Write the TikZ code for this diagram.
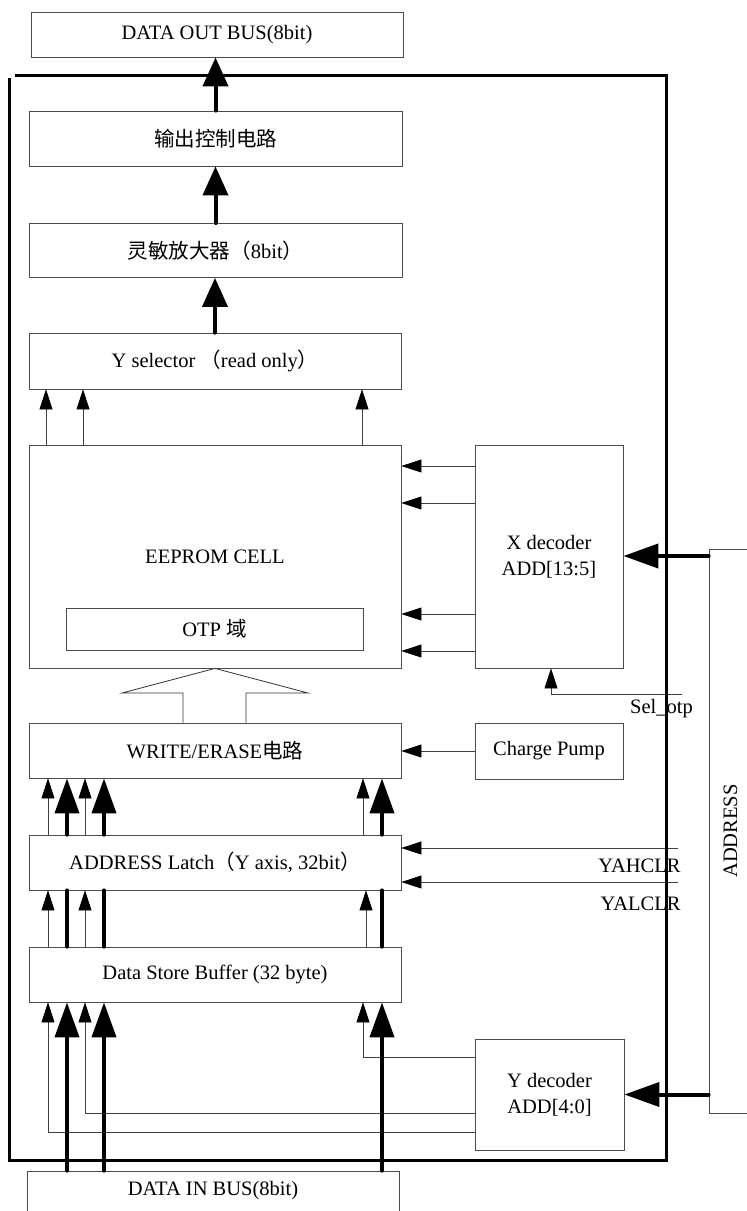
\documentclass[tikz,border=0pt]{standalone}
\usepackage{fontspec}
\setmainfont{Liberation Serif}
\newfontfamily\cjk{Noto Sans CJK SC}
\newcommand\zh[1]{{\cjk #1}}
\usetikzlibrary{arrows.meta}
\begin{document}
\begin{tikzpicture}[x=1pt,y=-1pt,
  every node/.style={font=\fontsize{20.5}{26}\selectfont},
  box/.style={draw=black!70,line width=0.8pt,inner sep=0pt,align=center},
  thinarr/.style={draw=black!75,line width=0.8pt,-{Triangle[length=20pt,width=13pt,color=black]}},
  bigarr/.style={line width=4pt,line cap=round,-{Triangle[length=35pt,width=24pt]}},
  toparr/.style={line width=4pt,line cap=round,-{Triangle[length=29pt,width=25pt]}},
  bigline/.style={line width=4pt,line cap=round},
  frameline/.style={line width=3pt},
  lbl/.style={anchor=base}
]
\useasboundingbox (0,0) rectangle (747,1211);
\clip (0,0) rectangle (747,1211);

% main column
\node[box,minimum width=372pt,minimum height=45pt] (dob) at (217,34.5) {DATA OUT BUS(8bit)};
\node[box,minimum width=373pt,minimum height=55pt] (out) at (215.5,138.5) {\zh{输出控制电路}};
\node[box,minimum width=373pt,minimum height=54pt] (amp) at (215.5,250.5) {\zh{灵敏放大器（}8bit\zh{）}};
\node[box,minimum width=372pt,minimum height=56pt] (ysel) at (215,361) {Y selector \zh{（}read only\zh{）}};
\node[box,minimum width=372pt,minimum height=223pt] (cell) at (215,556.5) {EEPROM CELL};
\node[box,minimum width=297pt,minimum height=42pt] (otp) at (214.5,629) {OTP \zh{域}};
\node[box,minimum width=372pt,minimum height=55pt] (we) at (215,750.5) {WRITE/ERASE\zh{电路}};
\node[box,minimum width=372pt,minimum height=55pt] (latch) at (215,862.5) {ADDRESS Latch\zh{（}Y axis, 32bit\zh{）}};
\node[box,minimum width=372pt,minimum height=55pt] (dsb) at (215,974.5) {Data Store Buffer (32 byte)};
\node[box,minimum width=372pt,minimum height=48pt,text depth=14pt] (din) at (213,1195) {DATA IN BUS(8bit)};

% right column
\node[box,minimum width=148pt,minimum height=223pt] (xdec) at (549,556.5) {X decoder\\ADD[13:5]};
\node[box,minimum width=148pt,minimum height=56pt] (cp) at (549,751) {Charge Pump};
\node[box,minimum width=149pt,minimum height=111pt] (ydec) at (549.5,1094.5) {Y decoder\\ADD[4:0]};
\node[box,minimum width=43pt,minimum height=564pt] (addr) at (730.5,831) {};
\node[rotate=90] (addrtxt) at (addr.center) {ADDRESS};

% read path
\draw[toparr] (out.north) -- (out.north |- dob.south);
\draw[toparr] (amp.north) -- (amp.north |- out.south);
\draw[toparr] (ysel.north) -- (ysel.north |- amp.south);
\foreach \x in {46,83,362}
  \draw[thinarr] (\x,0 |- cell.north) -- (\x,0 |- ysel.south);

% X decoder to cell
\foreach \y in {466,503,614,651}
  \draw[thinarr] (xdec.west |- 0,\y) -- (cell.east |- 0,\y);

% hollow arrow write/erase -> cell
\draw[draw=black!80,line width=0.8pt,fill=white]
  (183,0 |- we.north) -- (183,693) -- (122,693) -- (215,0 |- cell.south)
  -- (308,693) -- (246,693) -- (246,0 |- we.north);

% charge pump
\draw[thinarr] (cp.west) -- (cp.west -| we.east);

% latch -> write/erase
\foreach \x in {48,85,363}
  \draw[thinarr] (\x,0 |- latch.north) -- (\x,0 |- we.south);
\foreach \x in {67,104,382}
  \draw[bigarr] (\x,0 |- latch.north) -- (\x,0 |- we.south);

% buffer -> latch
\foreach \x in {48,85,366}
  \draw[thinarr] (\x,0 |- dsb.north) -- (\x,0 |- latch.south);
\foreach \x in {67,104,382}
  \draw[bigline] (\x,0 |- dsb.north) -- (\x,0 |- latch.south);

% Y decoder -> buffer
\draw[thinarr] (ydec.west |- 0,1057) -- (363,1057) -- (363,0 |- dsb.south);
\draw[thinarr] (ydec.west |- 0,1113) -- (85,1113) -- (85,0 |- dsb.south);
\draw[thinarr] (ydec.west |- 0,1132) -- (48,1132) -- (48,0 |- dsb.south);

% data in -> buffer
\foreach \x in {67,104,382}
  \draw[bigarr] (\x,0 |- din.north) -- (\x,0 |- dsb.south);

% address bus
\draw[bigarr] (addr.west |- 0,556) -- (xdec.east |- 0,556);
\draw[bigarr] (addr.west |- ydec.east) -- (ydec.east);

% control signals
\coordinate (sel) at (682,694);
\draw[thinarr] (sel) -- (551,694) -- (551,0 |- xdec.south);
\node[lbl] (sellbl) at (661.5,713) {Sel\_otp};
\coordinate (yah) at (678,848);
\coordinate (yal) at (678,882);
\draw[thinarr] (yah) -- (yah -| latch.east);
\draw[thinarr] (yal) -- (yal -| latch.east);
\node[lbl,anchor=base east] (yahlbl) at (684,872) {YAHCLR};
\node[lbl,anchor=base east] (yallbl) at (684,910) {YALCLR};

% outer frame
\draw[frameline] (15,75) -- (666,75) -- (666,1160) -- (9,1160) -- (9,78);
\end{tikzpicture}
\end{document}
